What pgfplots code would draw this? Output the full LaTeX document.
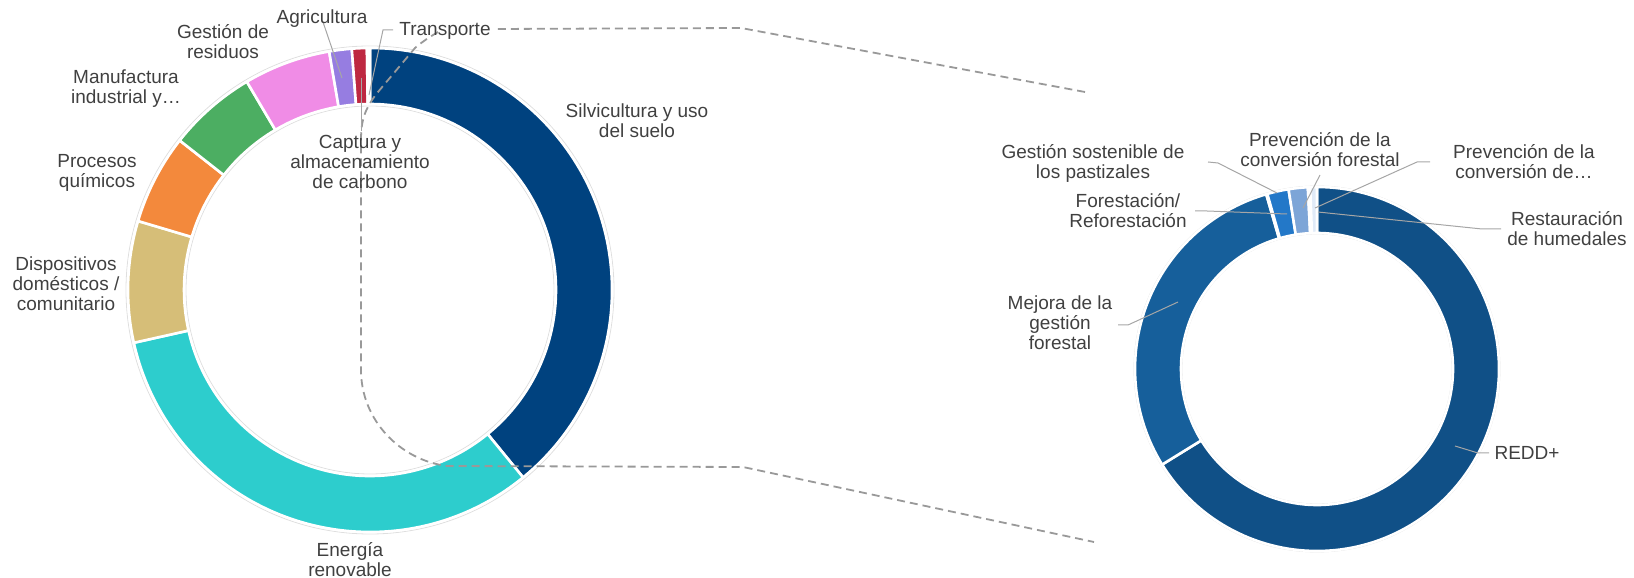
\documentclass[border=0pt]{standalone}
\usepackage{fontspec}
\setmainfont{Liberation Sans}
\usepackage{pgfplots}
\usepackage{pgfplotstable}
\pgfplotsset{compat=1.18}

\definecolor{cSil}{HTML}{00427F}
\definecolor{cEne}{HTML}{2DCDCD}
\definecolor{cDis}{HTML}{D6BE78}
\definecolor{cPro}{HTML}{F3893C}
\definecolor{cMan}{HTML}{4CAE62}
\definecolor{cGes}{HTML}{F08CE6}
\definecolor{cAgr}{HTML}{967DE1}
\definecolor{cCap}{HTML}{BE2841}
\definecolor{cTra}{HTML}{3A6FB0}
\definecolor{cRed}{HTML}{105087}
\definecolor{cMej}{HTML}{165F9B}
\definecolor{cPas}{HTML}{2C7FD0}
\definecolor{cFor}{HTML}{2378C8}
\definecolor{cPrf}{HTML}{7DA5D7}
\definecolor{cPrd}{HTML}{BED2EB}
\definecolor{cRes}{HTML}{E1EBF8}
\definecolor{cTxt}{HTML}{404040}
\definecolor{cLead}{HTML}{A6A6A6}
\definecolor{cDash}{HTML}{999999}

\tikzset{
  lbl/.style={font=\fontsize{9.5pt}{10pt}\selectfont, text=cTxt, align=center, inner sep=0pt},
  lead/.style={draw=cLead, line width=0.5pt}}

% left donut: sector shares (%)
\pgfplotstableread[col sep=comma]{
name,value,color
Silvicultura,39.1,cSil
Energia,32.4,cEne
Dispositivos,8.1,cDis
Procesos,6.0,cPro
Manufactura,5.9,cMan
Residuos,5.8,cGes
Agricultura,1.5,cAgr
Captura,1.0,cCap
Transporte,0.2,cTra
}\lefttbl

% right donut: forestry breakdown (%)
\pgfplotstableread[col sep=comma]{
name,value,color
REDD,66.2,cRed
Mejora,29.3,cMej
Pastizales,0.1,cPas
Forestacion,1.9,cFor
PrevForestal,1.7,cPrf
PrevDe,0.2,cPrd
Humedales,0.6,cRes
}\righttbl

% #1 table, #2 last row index, #3 cx, #4 cy, #5 R, #6 r  (axis units = px)
\newcommand{\drawdonut}[6]{%
  \pgfmathsetmacro\acur{90}%
  \pgfplotsforeachungrouped \i in {0,...,#2}{%
    \pgfplotstablegetelem{\i}{value}\of#1\let\val\pgfplotsretval
    \pgfplotstablegetelem{\i}{color}\of#1\let\col\pgfplotsretval
    \pgfmathsetmacro\anext{\acur-3.6*\val}%
    \pgfmathsetmacro\xa{#3+#5*cos(\acur)}%
    \pgfmathsetmacro\ya{#4+#5*sin(\acur)}%
    \pgfmathsetmacro\xb{#3+#6*cos(\anext)}%
    \pgfmathsetmacro\yb{#4+#6*sin(\anext)}%
    \pgfmathsetmacro\Rpt{#5/2}%
    \pgfmathsetmacro\rpt{#6/2}%
    \edef\cmd{\noexpand\filldraw[fill=\col,draw=white,line width=1.3pt,line join=round]
      (axis cs:\xa,\ya) arc[start angle=\acur,end angle=\anext,radius=\Rpt pt]
      -- (axis cs:\xb,\yb) arc[start angle=\anext,end angle=\acur,radius=\rpt pt] -- cycle;}%
    \cmd
    \global\let\acur\anext
  }%
}

\begin{document}
\begin{tikzpicture}
\begin{axis}[name=ax, x=0.5pt, y=0.5pt, xmin=0, xmax=1634, ymin=0, ymax=578,
  hide axis, clip=false]

  % faint ring outlines
  \draw[gray!25, line width=0.4pt] (axis cs:370,288) circle[radius=122pt];
  \draw[gray!25, line width=0.4pt] (axis cs:370,288) circle[radius=92pt];
  \draw[gray!25, line width=0.4pt] (axis cs:1317,209) circle[radius=91.5pt];
  \draw[gray!25, line width=0.4pt] (axis cs:1317,209) circle[radius=67.5pt];

  \drawdonut{\lefttbl}{8}{370}{288}{242}{186}
  \drawdonut{\righttbl}{6}{1317}{209}{182}{136}

  % dashed connectors
  \draw[cDash, line width=0.9pt, dash pattern=on 4pt off 2.5pt]
    (axis cs:1085,486) -- (axis cs:741,550) -- (axis cs:494,549);
  \draw[cDash, line width=0.9pt, dash pattern=on 4pt off 2.5pt]
    (axis cs:438,546) .. controls (axis cs:428,540) and (axis cs:422,536) .. (axis cs:415,530)
    -- (axis cs:378,486) .. controls (axis cs:365,470) and (axis cs:361,458) .. (axis cs:361,438)
    -- (axis cs:361,208) .. controls (axis cs:361,158) and (axis cs:400,118) .. (axis cs:447,112)
    -- (axis cs:743,111) -- (axis cs:1094,36);

  % leader lines left
  \draw[lead] (axis cs:323,556) -- (axis cs:342,500);
  \draw[lead] (axis cs:393,548) -- (axis cs:383,548) -- (axis cs:369,483);
  \draw[lead] (axis cs:361,500) -- (axis cs:361,447);
  % leader lines right
  \draw[lead] (axis cs:1208,416) -- (axis cs:1218,415) -- (axis cs:1277,385);
  \draw[lead] (axis cs:1195,367) -- (axis cs:1207,367) -- (axis cs:1287,364);
  \draw[lead] (axis cs:1320,403) -- (axis cs:1303,370);
  \draw[lead] (axis cs:1430,416) -- (axis cs:1417,416) -- (axis cs:1315,370);
  \draw[lead] (axis cs:1501,349) -- (axis cs:1482,349) -- (axis cs:1318,366);
  \draw[lead] (axis cs:1118,253) -- (axis cs:1128,253) -- (axis cs:1178,276);
  \draw[lead] (axis cs:1489,125) -- (axis cs:1478,125) -- (axis cs:1455,132);

  % labels left
  \node[lbl] at (axis cs:637,457) {Silvicultura y uso\\del suelo};
  \node[lbl] at (axis cs:350,18) {Energía\\renovable};
  \node[lbl] at (axis cs:66,294) {Dispositivos\\domésticos /\\comunitario};
  \node[lbl] at (axis cs:97,405) {Procesos\\químicos};
  \node[lbl] at (axis cs:126,489) {Manufactura\\industrial y…};
  \node[lbl] at (axis cs:223,536) {Gestión de\\residuos};
  \node[lbl] at (axis cs:322,559) {Agricultura};
  \node[lbl] at (axis cs:445,547) {Transporte};
  \node[lbl] at (axis cs:360,416) {Captura y\\almacenamiento\\de carbono};
  % labels right
  \node[lbl] at (axis cs:1093,415) {Gestión sostenible de\\los pastizales};
  \node[lbl] at (axis cs:1320,428) {Prevención de la\\conversión forestal};
  \node[lbl] at (axis cs:1524,416) {Prevención de la\\conversión de…};
  \node[lbl] at (axis cs:1128,367) {Forestación/\\Reforestación};
  \node[lbl] at (axis cs:1567,349) {Restauración\\de humedales};
  \node[lbl] at (axis cs:1060,255) {Mejora de la\\gestión\\forestal};
  \node[lbl] at (axis cs:1527,125) {REDD+};
\end{axis}
\pgfresetboundingbox
\path (ax.south west) rectangle (ax.north east);
\end{tikzpicture}
\end{document}
